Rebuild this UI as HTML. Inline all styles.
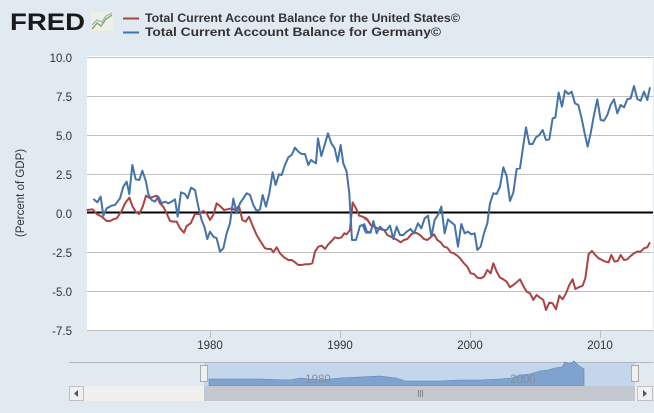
<!DOCTYPE html>
<html><head><meta charset="utf-8"><style>
body{margin:0;width:654px;height:413px;background:#e1e9f1;overflow:hidden;font-family:"Liberation Sans",sans-serif;}
svg{position:absolute;left:0;top:0}
</style></head><body>
<svg width="654" height="413" viewBox="0 0 654 413">
<text x="10" y="30" font-size="24" font-weight="bold" fill="#1a1a1a" textLength="75" lengthAdjust="spacingAndGlyphs" font-family="Liberation Sans,sans-serif">FRED</text>
<rect x="91" y="12" width="22" height="19" fill="#eef0e4"/>
<polyline points="92,29 97,23 101,26 106,19 112,15" fill="none" stroke="#8aa870" stroke-width="1.5"/>
<polyline points="92,25 97,20 102,22 106,16 112,13" fill="none" stroke="#9ab0c8" stroke-width="1.2"/>
<line x1="123" y1="18.5" x2="139" y2="18.5" stroke="#a94442" stroke-width="2"/>
<line x1="123" y1="32.5" x2="139" y2="32.5" stroke="#4572a7" stroke-width="2"/>
<text x="145" y="22" font-size="12" font-weight="bold" fill="#333" font-family="Liberation Sans,sans-serif" textLength="315" lengthAdjust="spacingAndGlyphs">Total Current Account Balance for the United States©</text>
<text x="145" y="36" font-size="12" font-weight="bold" fill="#333" font-family="Liberation Sans,sans-serif" textLength="296" lengthAdjust="spacingAndGlyphs">Total Current Account Balance for Germany©</text>
<rect x="87" y="56" width="566" height="274" fill="#fff"/>
<g stroke="#c0c0c0" stroke-width="1">
<line x1="87" y1="57.5" x2="653" y2="57.5"/><line x1="87" y1="96.5" x2="653" y2="96.5"/><line x1="87" y1="135.5" x2="653" y2="135.5"/><line x1="87" y1="174.5" x2="653" y2="174.5"/><line x1="87" y1="252.5" x2="653" y2="252.5"/><line x1="87" y1="291.5" x2="653" y2="291.5"/><line x1="87" y1="330.5" x2="653" y2="330.5"/>
<line x1="210.5" y1="330" x2="210.5" y2="338"/><line x1="340.5" y1="330" x2="340.5" y2="338"/><line x1="470.5" y1="330" x2="470.5" y2="338"/><line x1="600.5" y1="330" x2="600.5" y2="338"/>
</g>
<g font-size="11.5" fill="#333" text-anchor="end" font-family="Liberation Sans,sans-serif">
<text x="72" y="62">10.0</text><text x="72" y="101">7.5</text><text x="72" y="140">5.0</text><text x="72" y="179">2.5</text><text x="72" y="218">0.0</text><text x="72" y="257">-2.5</text><text x="72" y="296">-5.0</text><text x="72" y="335">-7.5</text>
</g>
<g font-size="11.5" fill="#333" text-anchor="middle" font-family="Liberation Sans,sans-serif">
<text x="210" y="349">1980</text><text x="340" y="349">1990</text><text x="470" y="349">2000</text><text x="600" y="349">2010</text>
</g>
<text transform="translate(24,193) rotate(-90)" font-size="11.5" fill="#333" text-anchor="middle" font-family="Liberation Sans,sans-serif">(Percent of GDP)</text>
<line x1="87" y1="212.5" x2="653" y2="212.5" stroke="#000" stroke-width="2"/>
<g fill="none" stroke-width="2" stroke-linejoin="round">
<g transform="translate(80,50) scale(0.3333)">
<polyline vector-effect="non-scaling-stroke" stroke="#a94442" points="20,480 38,478 50,492 65,500 80,513 90,513 100,508 110,505 125,483 135,460 148,443 158,470 168,487 178,492 188,470 198,437 210,445 220,440 230,437 240,460 250,470 260,490 270,513 280,515 290,515 300,535 312,548 320,528 332,520 345,492 358,492 370,483 380,490 390,510 400,495 410,460 420,468 432,480 442,478 455,475 465,480 477,468 487,510 497,515 507,500 517,525 530,555 542,575 555,595 565,597 573,597 580,607 590,592 600,610 612,622 625,630 635,630 645,637 655,645 665,645 675,643 685,643 697,640 705,605 715,590 725,587 735,597 745,583 755,573 765,562 775,565 785,562 793,550 800,553 810,540 818,457 828,475 838,497 848,500 858,505 870,520"/>
<polyline vector-effect="non-scaling-stroke" stroke="#4572a7" points="40,447 52,457 62,440 70,497 80,475 95,467 105,465 120,445 130,410 140,395 148,432 157,345 167,388 178,390 187,362 198,395 205,432 215,450 225,455 235,440 245,460 255,455 265,460 275,455 285,448 293,500 303,427 315,432 323,445 333,413 345,420 355,470 365,510 373,530 382,567 390,545 400,560 410,565 420,605 430,595 440,550 450,520 460,446 470,490 480,460 490,445 500,430 510,435 520,465 530,483 540,478 548,435 558,470 568,430 578,367 587,405 597,373 605,375 615,345 625,322 635,315 645,293 655,305 665,312 675,312 685,345 693,330 700,335 708,340 714,265 724,318 734,285 744,250 754,280 764,295 773,335 782,285 790,340 800,365 808,430 816,570 828,570 840,528 848,525 858,548 870,545"/>
</g>
<g transform="translate(364,50) scale(0.3333)">
<polyline vector-effect="non-scaling-stroke" stroke="#a94442" points="0,505 10,508 20,525 30,530 40,535 50,538 60,540 70,555 80,560 90,565 100,570 110,577 120,570 130,567 140,555 150,547 160,550 170,557 180,567 190,570 200,562 210,553 220,570 230,577 240,590 250,593 260,607 270,610 280,617 290,627 300,640 310,650 320,670 330,672 340,683 350,685 360,680 370,660 380,670 388,640 398,665 408,683 418,688 428,695 438,712 448,705 458,697 468,688 478,708 488,725 498,730 508,750 518,735 528,743 538,750 546,780 556,758 566,760 576,778 586,737 596,748 606,730 616,705 626,688 634,717 644,712 656,707 664,685 674,612 684,603 694,615 704,625 714,630 724,635 734,637 742,615 752,635 762,632 770,615 780,630 790,628 800,618 810,610 820,605 830,605 840,595 850,592 858,577"/>
<polyline vector-effect="non-scaling-stroke" stroke="#4572a7" points="0,520 10,548 20,548 28,513 38,550 48,530 58,540 68,540 78,527 88,567 98,530 108,555 118,555 128,545 140,537 150,550 162,520 172,535 182,505 192,497 202,560 212,510 222,495 232,470 242,550 252,508 262,517 272,525 282,590 292,522 302,550 312,545 322,553 332,550 340,600 350,590 360,550 370,520 378,460 388,430 398,432 408,410 418,352 428,378 438,453 448,428 458,357 468,355 476,300 486,232 496,282 506,282 516,262 526,255 536,240 546,270 556,268 566,205 574,203 584,128 594,170 603,122 613,132 623,125 633,160 643,165 653,205 662,250 671,290 680,250 690,195 700,148 710,210 720,212 730,195 740,165 750,148 760,190 770,165 780,172 790,148 800,145 810,108 820,147 830,152 840,125 850,150 858,112"/>
</g>
</g>
<!-- navigator -->
<line x1="69" y1="362.5" x2="653" y2="362.5" stroke="#b0b8c0"/>
<rect x="204" y="363" width="431" height="23" fill="#c3d6ec"/>
<polygon fill="#7fa3cf" stroke="#5b82b5" stroke-width="0.6" points="209,386 209,379 230,379 260,379 290,380 300,378 320,380 340,378 360,377 380,376 396,378 405,381 420,381 440,381 460,380 480,380 500,379 512,378 520,375 530,374 540,371 548,370 555,368 562,367 565,362 570,364 574,361 579,366 584,369 584,386"/>
<text x="318" y="383" font-size="11.5" fill="#8090a0" text-anchor="middle" font-family="Liberation Sans,sans-serif">1980</text>
<text x="523" y="383" font-size="11.5" fill="#8090a0" text-anchor="middle" font-family="Liberation Sans,sans-serif">2000</text>
<rect x="200.5" y="365.5" width="7" height="16" fill="#f0f0f0" stroke="#aaa"/>
<rect x="631.5" y="365.5" width="7" height="16" fill="#f0f0f0" stroke="#aaa"/>
<rect x="69" y="386" width="584" height="15" fill="#f0f0f0"/>
<rect x="204" y="386" width="431" height="15" fill="#c4c8ce"/>
<rect x="69.5" y="386.5" width="14" height="14" fill="#f0f0f0" stroke="#c0c0c0"/>
<rect x="637.5" y="386.5" width="15" height="14" fill="#f0f0f0" stroke="#c0c0c0"/>
<polygon points="78,390 78,397 74,393.5" fill="#555"/>
<polygon points="643,390 643,397 647,393.5" fill="#555"/>
<g stroke="#888"><line x1="418.5" y1="390" x2="418.5" y2="397"/><line x1="420.5" y1="390" x2="420.5" y2="397"/><line x1="422.5" y1="390" x2="422.5" y2="397"/></g>
</svg>
</body></html>
